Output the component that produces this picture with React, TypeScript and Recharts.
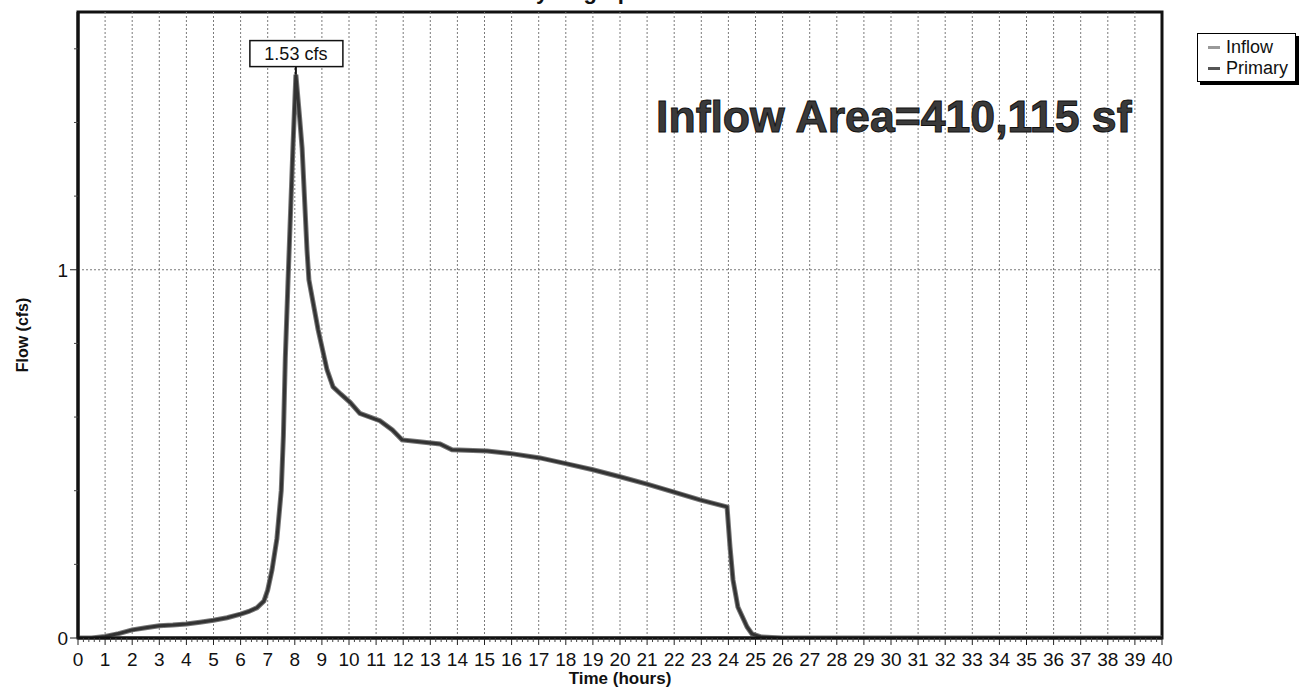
import React from 'react';
import { LineChart, Line, XAxis, YAxis, ReferenceLine, ReferenceArea, ReferenceDot, Legend } from 'recharts';

const hours = [0, 0.5, 1, 1.5, 2, 2.5, 3, 3.5, 4, 4.5, 5, 5.5, 6, 6.3, 6.6, 6.86, 7.0, 7.16, 7.34, 7.5, 7.58, 7.65, 7.75, 7.93, 8.04, 8.17, 8.27, 8.45, 8.52, 8.86, 9.19, 9.41, 9.7, 10.04, 10.4, 11.14, 11.6, 11.96, 12.6, 13.36, 13.8, 15.1, 16.05, 17.05, 18.04, 19.0, 20.0, 21.0, 21.96, 22.95, 23.95, 24.06, 24.17, 24.35, 24.69, 24.87, 25.2, 26, 30, 35, 40];
const inflow = [0, 0, 0.004, 0.012, 0.022, 0.028, 0.033, 0.035, 0.038, 0.043, 0.048, 0.055, 0.065, 0.072, 0.082, 0.10, 0.13, 0.185, 0.27, 0.40, 0.55, 0.76, 0.97, 1.33, 1.53, 1.42, 1.33, 1.054, 0.973, 0.837, 0.728, 0.682, 0.662, 0.64, 0.61, 0.59, 0.565, 0.538, 0.533, 0.527, 0.511, 0.508, 0.5, 0.489, 0.473, 0.457, 0.438, 0.418, 0.397, 0.375, 0.356, 0.247, 0.158, 0.084, 0.03, 0.011, 0.003, 0, 0, 0, 0];
const primary = [0, 0, 0.004, 0.012, 0.022, 0.028, 0.033, 0.035, 0.038, 0.043, 0.048, 0.055, 0.065, 0.072, 0.082, 0.10, 0.13, 0.185, 0.27, 0.40, 0.55, 0.76, 0.97, 1.33, 1.53, 1.42, 1.33, 1.054, 0.973, 0.837, 0.728, 0.682, 0.662, 0.64, 0.61, 0.59, 0.565, 0.538, 0.533, 0.527, 0.511, 0.508, 0.5, 0.489, 0.473, 0.457, 0.438, 0.418, 0.397, 0.375, 0.356, 0.247, 0.158, 0.084, 0.03, 0.011, 0.003, 0, 0, 0, 0];

const hourTicks = [0, 1, 2, 3, 4, 5, 6, 7, 8, 9, 10, 11, 12, 13, 14, 15, 16, 17, 18, 19, 20, 21, 22, 23, 24, 25, 26, 27, 28, 29, 30, 31, 32, 33, 34, 35, 36, 37, 38, 39, 40];
const flowTicks = [0, 1];
const peakTime = 8.04;
const peakFlow = 1.53;
const peakLabel = '1.53 cfs';
const areaText = 'Inflow Area=410,115 sf';
const titleText = 'Hydrograph';

const FONT = '"Liberation Sans", Arial, sans-serif';

const data = hours.map((t, i) => ({ t, inflow: inflow[i], primary: primary[i] }));
const minorX: number[] = [];
for (let k = 0; k <= 200; k++) minorX.push(Math.round(k * 20) / 100);
const minorY: number[] = [];
for (let k = 0; k <= 8; k++) minorY.push(Math.round(k * 20) / 100);

const isMajor = (v: number, majors: number[]) => majors.some((m) => Math.abs(m - v) < 1e-6);

const XTick = (props: any) => {
  const { x, y, payload } = props;
  const v = payload.value;
  if (isMajor(v, hourTicks)) {
    return (
      <g>
        <line x1={x} x2={x} y1={y} y2={y + 7} stroke="#222" strokeWidth={1} />
        <text x={x} y={y + 28} textAnchor="middle" fontSize={19} fontFamily={FONT} fill="#111">{Math.round(v)}</text>
      </g>
    );
  }
  return <line x1={x} x2={x} y1={y} y2={y + 4} stroke="#444" strokeWidth={1} />;
};

const YTick = (props: any) => {
  const { x, y, payload } = props;
  const v = payload.value;
  if (isMajor(v, flowTicks)) {
    return (
      <g>
        <line x1={x} x2={x - 8} y1={y} y2={y} stroke="#222" strokeWidth={1} />
        <text x={x - 10} y={y + 7} textAnchor="end" fontSize={19} fontFamily={FONT} fill="#111">{Math.round(v)}</text>
      </g>
    );
  }
  return <line x1={x} x2={x - 4} y1={y} y2={y} stroke="#444" strokeWidth={1} />;
};

const renderLegend = () => (
  <div style={{ width: 99, height: 49, boxSizing: 'border-box', border: '1px solid #000', background: '#fff', boxShadow: '3px 3px 0 #000', fontFamily: FONT, fontSize: 18, lineHeight: '21px', paddingTop: 3 }}>
    <div style={{ display: 'flex', alignItems: 'center' }}>
      <span style={{ display: 'inline-block', width: 12, height: 3, background: '#999', marginLeft: 10, marginRight: 6 }} />
      <span style={{ color: '#111' }}>Inflow</span>
    </div>
    <div style={{ display: 'flex', alignItems: 'center' }}>
      <span style={{ display: 'inline-block', width: 12, height: 3, background: '#555', marginLeft: 10, marginRight: 6 }} />
      <span style={{ color: '#111' }}>Primary</span>
    </div>
  </div>
);

const PeakShape = (props: any) => {
  const { cx, cy } = props;
  return (
    <g>
      <line x1={cx} x2={cx} y1={cy} y2={cy - 8} stroke="#111" strokeWidth={2} />
      <rect x={cx - 46} y={cy - 34} width={93} height={26} fill="#fff" stroke="#111" strokeWidth={1.5} />
      <text x={cx} y={cy - 15} textAnchor="middle" fontSize={18} fontFamily={FONT} fill="#111">{peakLabel}</text>
    </g>
  );
};

export default function App() {
  return (
    <div style={{ position: 'absolute', left: 0, top: 0, width: 1302, height: 690, overflow: 'hidden', background: '#fff' }}>
      <div style={{ position: 'absolute', left: 520, top: -19, width: 120, textAlign: 'center', fontFamily: FONT, fontWeight: 'bold', fontSize: 22, lineHeight: '22px', color: '#111' }}>{titleText}</div>
      <LineChart width={1302} height={690} data={data} margin={{ top: 12, right: 140, bottom: 0, left: 0 }}>
        <XAxis
          dataKey="t"
          type="number"
          domain={[0, 40]}
          ticks={minorX}
          interval={0}
          tickLine={false}
          tickSize={0}
          tickMargin={0}
          tick={<XTick />}
          axisLine={{ stroke: '#111', strokeWidth: 3 }}
          height={52}
          label={{ content: (p: any) => (
            <text x={p.viewBox.x + p.viewBox.width / 2} y={684} textAnchor="middle" fontSize={17} fontWeight="bold" fontFamily={FONT} fill="#111">Time  (hours)</text>
          ) }}
        />
        <YAxis
          type="number"
          domain={[0, 1.7]}
          ticks={minorY}
          interval={0}
          tickLine={false}
          tickSize={0}
          tickMargin={0}
          tick={<YTick />}
          axisLine={{ stroke: '#111', strokeWidth: 3 }}
          width={78}
          allowDataOverflow
          label={{ content: (p: any) => {
            const cy = p.viewBox.y + p.viewBox.height / 2 + 10;
            return (
              <text x={22} y={cy} transform={`rotate(-90 22 ${cy})`} textAnchor="middle" dominantBaseline="central" fontSize={16} fontWeight="bold" fontFamily={FONT} fill="#111">Flow  (cfs)</text>
            );
          } }}
        />
        {hourTicks.slice(1, -1).map((h) => (
          <ReferenceLine key={'g' + h} x={h} stroke="#7a7a7a" strokeWidth={1} strokeDasharray="2 2" />
        ))}
        <ReferenceLine y={1} stroke="#7a7a7a" strokeWidth={1} strokeDasharray="2 2" />
        <ReferenceArea x1={0} x2={40} y1={0} y2={1.7} fill="none" fillOpacity={0} stroke="#111" strokeWidth={3} />
        <Line type="linear" dataKey="inflow" name="Inflow" stroke="#777" strokeWidth={5} dot={false} isAnimationActive={false} />
        <Line type="linear" dataKey="primary" name="Primary" stroke="#333" strokeWidth={3} dot={false} isAnimationActive={false} />
        <ReferenceDot x={peakTime} y={peakFlow} r={0} shape={(p: any) => <PeakShape {...p} />} />
        <Legend layout="vertical" align="center" verticalAlign="middle" content={renderLegend} wrapperStyle={{ position: 'absolute', left: 1197, top: 33, width: 102, height: 52 }} />
      </LineChart>
      <div style={{ position: 'absolute', left: 656, top: 95, fontFamily: FONT, fontWeight: 'bold', fontSize: 44.6, lineHeight: '44px', color: '#3a3a3a', WebkitTextStroke: '1px #111', whiteSpace: 'nowrap' }}>{areaText}</div>
    </div>
  );
}
